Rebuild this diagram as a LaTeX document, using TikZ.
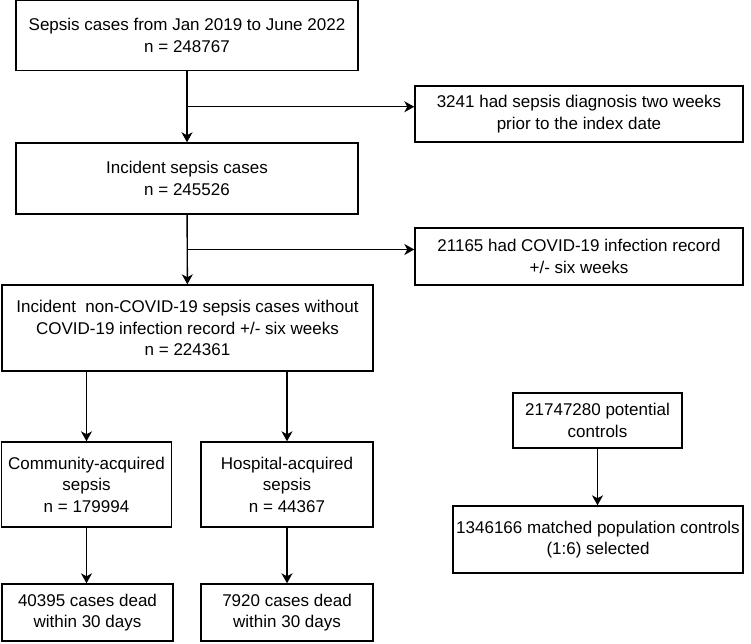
\documentclass[tikz,border=0pt]{standalone}
\usepackage{fontspec}
\setmainfont{Liberation Sans}
\usetikzlibrary{arrows.meta,calc}

\tikzset{
    box/.style={draw,line width=1.4pt,align=center,inner sep=0pt,
        font=\fontsize{17}{21.5}\selectfont},
    arr/.style={line width=1.4pt,-{Stealth[length=10pt,width=11pt,inset=3pt]}}
}

\begin{document}
\begin{tikzpicture}[x=1pt,y=-1pt]
    \useasboundingbox (0,0) rectangle (751,644);

    % left column
    \node [box,minimum width=342pt,minimum height=70pt] (start) at (187,35.5)
        {Sepsis cases from Jan 2019 to June 2022\\n = 248767};
    \node [box,minimum width=342pt,minimum height=71pt] (incid) at (187,178.5)
        {Incident sepsis cases\\n = 245526};
    \node [box,minimum width=371pt,minimum height=86pt] (noncov) at (187.5,328)
        {Incident\ \ non-COVID-19 sepsis cases without\\COVID-19 infection record +/- six weeks\\n = 224361};

    % exclusions
    \node [box,minimum width=328pt,minimum height=56pt] (excla) at (579,114)
        {3241 had sepsis diagnosis two weeks\\prior to the index date};
    \node [box,minimum width=328pt,minimum height=57pt] (exclb) at (579,256.5)
        {21165 had COVID-19 infection record\\+/- six weeks};

    % split by place of acquisition
    \node [box,minimum width=170pt,minimum height=85pt] (comm) at (86.5,484.5)
        {Community-acquired\\sepsis\\n = 179994};
    \node [box,minimum width=172pt,minimum height=85pt] (hosp) at (287,484.5)
        {Hospital-acquired\\sepsis\\n = 44367};
    \node [box,minimum width=171pt,minimum height=57pt] (commdead) at (87.5,612.5)
        {40395 cases dead\\within 30 days};
    \node [box,minimum width=172pt,minimum height=57pt] (hospdead) at (287,612.5)
        {7920 cases dead\\within 30 days};

    % controls
    \node [box,minimum width=169pt,minimum height=55pt] (potctrl) at (597.5,420.5)
        {21747280 potential\\controls};
    \node [box,minimum width=290pt,minimum height=67pt] (matched) at (598,539.5)
        {1346166 matched population controls\\(1:6) selected};

    \coordinate (brancha) at ($(start.south)!0.5!(incid.north)$);
    \coordinate (branchb) at ($(incid.south)!0.5!(noncov.north)$);

    \draw [arr] (start) -- (incid);
    \draw [arr] (brancha) -- (brancha -| excla.west);
    \draw [arr] (incid) -- (noncov);
    \draw [arr] (branchb) -- (branchb -| exclb.west);

    \draw [arr] (comm.north |- noncov.south) -- (comm);
    \draw [arr] (hosp.north |- noncov.south) -- (hosp);
    \draw [arr] (comm) -- (comm |- commdead.north);
    \draw [arr] (hosp) -- (hospdead);

    \draw [arr] (potctrl) -- (potctrl |- matched.north);
\end{tikzpicture}
\end{document}
